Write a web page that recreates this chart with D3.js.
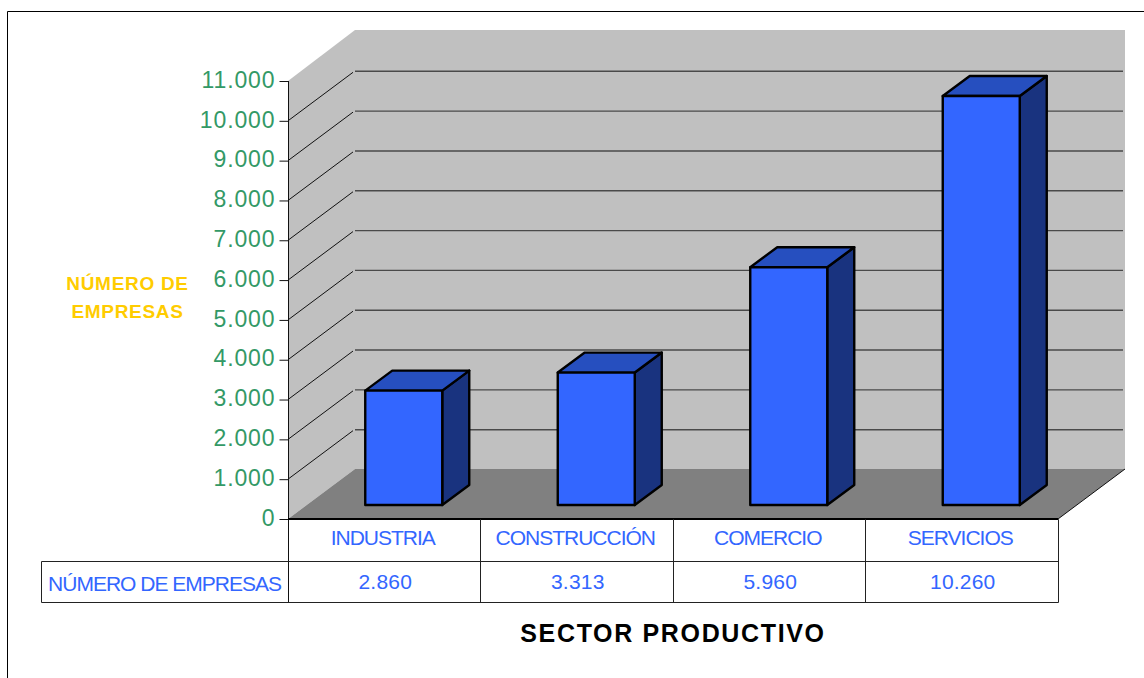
<!DOCTYPE html>
<html>
<head>
<meta charset="utf-8">
<script src="https://cdn.jsdelivr.net/npm/d3@7"></script>
<style>
  html, body { margin: 0; padding: 0; background: #fff; }
  svg { display: block; }
  text { font-family: "Liberation Sans", Arial, sans-serif; }
</style>
</head>
<body>
<svg id="chart" width="1144" height="678"></svg>
<script>
// Chart data
const sectors = ["INDUSTRIA", "CONSTRUCCIÓN", "COMERCIO", "SERVICIOS"];
const empresas = [2860, 3313, 5960, 10260];
const yTicks = [0, 1000, 2000, 3000, 4000, 5000, 6000, 7000, 8000, 9000, 10000, 11000];
const rowLabel = "NÚMERO DE EMPRESAS";
const yTitle = ["NÚMERO DE", "EMPRESAS"];
const xTitle = "SECTOR PRODUCTIVO";

const svg = d3.select("#chart");

// Spanish number format: 10.260
const esFormat = d3.formatLocale({ decimal: ",", thousands: ".", grouping: [3], currency: ["", ""] }).format(",d");

// Front plane of the 3D box, plus how far back the walls go
const x = d3.scaleBand().domain(sectors).range([288, 1058]);
const y = d3.scaleLinear().domain([0, 11000]).range([519, 81]);
const depthX = 67, depthY = -50;

// Bars sit inside the floor, with their own smaller depth
const barW = 77, barDX = 27, barDY = -20, barShiftX = 19.5, barShiftY = -14;

const line = d3.line();
const poly = pts => line(pts) + "Z";

// Outer frame
svg.append("path").attr("d", "M7.5,678V11.5H1144").attr("fill", "none").attr("stroke", "#000");

// Walls and floor
const x0 = x.range()[0], x1 = x.range()[1], yB = y(0), yT = y(11000);
svg.append("path")
    .attr("d", poly([[x0 + depthX, yT + depthY - 1], [x1 + depthX, yT + depthY - 1], [x1 + depthX, yB + depthY], [x0 + depthX, yB + depthY]]))
    .attr("fill", "#c0c0c0");
svg.append("path")
    .attr("d", poly([[x0, yT], [x0 + depthX, yT + depthY - 1], [x0 + depthX, yB + depthY], [x0, yB]]))
    .attr("fill", "#c0c0c0");
svg.append("path")
    .attr("d", poly([[x0, yB], [x0 + depthX, yB + depthY], [x1 + depthX, yB + depthY], [x1, yB]]))
    .attr("fill", "#808080");

// Gridlines on the back and side walls (not at 0 or at the top)
const gridTicks = yTicks.filter(d => d > 0 && d < 11000);
svg.append("g").selectAll("line").data(gridTicks).join("line")
    .attr("x1", x0 + depthX)
    .attr("x2", x1 + depthX - 2)
    .attr("y1", d => y(d) + depthY + 0.5)
    .attr("y2", d => y(d) + depthY + 0.5)
    .attr("stroke", "#4a4a4a")
    .attr("stroke-width", 1.4);
svg.append("g").selectAll("line").data(gridTicks).join("line")
    .attr("x1", x0)
    .attr("x2", x0 + depthX - 2)
    .attr("y1", d => y(d))
    .attr("y2", d => y(d) + depthY + 1.5)
    .attr("stroke", "#111");

// Floor right edge
svg.append("line")
    .attr("x1", x1).attr("y1", yB)
    .attr("x2", x1 + depthX).attr("y2", yB + depthY)
    .attr("stroke", "#111");

// Bars
const bars = svg.append("g").selectAll("g")
    .data(sectors.map((s, i) => ({ s, v: empresas[i] })))
    .join("g")
    .attr("stroke", "#000")
    .attr("stroke-width", 2.4)
    .attr("stroke-linejoin", "round");

const barL = d => x(d.s) + x.bandwidth() / 2 - barW / 2 + barShiftX;
const barBase = yB + barShiftY;
const barTop = d => y(d.v) + barShiftY - 0.5;

bars.append("path") // side
    .attr("fill", "#19337f")
    .attr("d", d => poly([
        [barL(d) + barW, barTop(d)],
        [barL(d) + barW + barDX, barTop(d) + barDY],
        [barL(d) + barW + barDX, barBase + barDY],
        [barL(d) + barW, barBase]]));
bars.append("path") // top
    .attr("fill", "#264fbf")
    .attr("d", d => poly([
        [barL(d), barTop(d)],
        [barL(d) + barDX, barTop(d) + barDY],
        [barL(d) + barW + barDX, barTop(d) + barDY],
        [barL(d) + barW, barTop(d)]]));
bars.append("rect") // front
    .attr("fill", "#3366ff")
    .attr("x", barL)
    .attr("y", barTop)
    .attr("width", barW)
    .attr("height", d => barBase - barTop(d));

// Y axis
const yAxis = svg.append("g")
    .attr("transform", `translate(${x0 + 0.5},0)`)
    .call(d3.axisLeft(y).tickValues(yTicks).tickFormat(esFormat).tickSize(9).tickPadding(4));
yAxis.selectAll("path,line").attr("stroke", "#111");
yAxis.select(".domain").attr("d", `M0,${yT}V602`);
yAxis.selectAll("text")
    .attr("fill", "#339966")
    .attr("font-size", 23)
    .attr("letter-spacing", 0.9)
    .attr("dy", "0.27em")
    .style("font-family", '"Liberation Sans", Arial, sans-serif');

// Data table under the chart
const rowTop = 561, rowBottom = 602, tableLeft = 42;
const table = svg.append("g").attr("stroke", "#222").attr("fill", "none");
table.append("path").attr("d", `M${x0},${yB + 0.5}H${x1 + 0.5}V${rowBottom + 0.5}H${tableLeft - 0.5}V${rowTop + 0.5}H${x1}`).attr("stroke-width", 1);
table.append("line").attr("x1", x0).attr("x2", x1).attr("y1", yB).attr("y2", yB).attr("stroke", "#000").attr("stroke-width", 2);
table.selectAll("line.sep").data(sectors.slice(1)).join("line")
    .attr("class", "sep")
    .attr("x1", d => Math.floor(x(d)) + 0.5).attr("x2", d => Math.floor(x(d)) + 0.5)
    .attr("y1", yB).attr("y2", rowBottom);

const blueText = svg.append("g").attr("fill", "#3366ff").attr("font-size", 21).attr("text-anchor", "middle");
blueText.selectAll("text.cat").data(sectors).join("text")
    .attr("class", "cat")
    .attr("x", d => x(d) + x.bandwidth() / 2 - 1.5)
    .attr("y", 545)
    .attr("letter-spacing", -1)
    .text(d => d);
blueText.selectAll("text.val").data(empresas).join("text")
    .attr("class", "val")
    .attr("x", (d, i) => x(sectors[i]) + x.bandwidth() / 2 + 1)
    .attr("y", 589)
    .attr("letter-spacing", 0.2)
    .text(d => esFormat(d));
blueText.append("text")
    .attr("x", 164.5).attr("y", 591)
    .attr("letter-spacing", -1)
    .text(rowLabel);

// Axis titles
svg.append("g").selectAll("text").data(yTitle).join("text")
    .attr("x", 127.5)
    .attr("y", (d, i) => 290 + i * 27.5)
    .attr("text-anchor", "middle")
    .attr("font-size", 19)
    .attr("font-weight", "bold")
    .attr("letter-spacing", 0.7)
    .attr("fill", "#ffcc00")
    .text(d => d);
svg.append("text")
    .attr("x", 673).attr("y", 642)
    .attr("text-anchor", "middle")
    .attr("font-size", 25)
    .attr("font-weight", "bold")
    .attr("letter-spacing", 1.65)
    .text(xTitle);
</script>
</body>
</html>
